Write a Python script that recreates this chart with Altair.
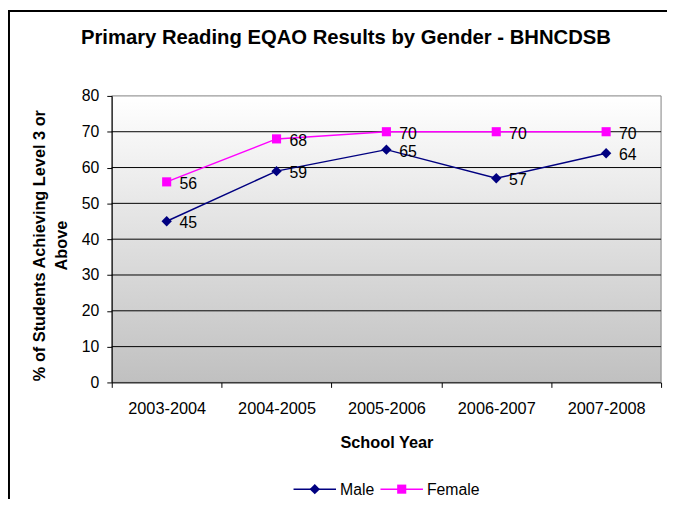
import altair as alt
import pandas as pd

years = ["2003-2004", "2004-2005", "2005-2006", "2006-2007", "2007-2008"]
male = [45, 59, 65, 57, 64]
female = [56, 68, 70, 70, 70]
series = ["Male", "Female"]
colors = ["#000080", "#FF00FF"]
shapes = ["diamond", "square"]
y_grid = [10, 20, 30, 40, 50, 60, 70]

rows = []
for y, m, f in zip(years, male, female):
    rows.append({"year": y, "series": "Male", "value": m})
    rows.append({"year": y, "series": "Female", "value": f})
df = pd.DataFrame(rows)
grid_df = pd.DataFrame({"value": y_grid})
leg_df = pd.DataFrame({"series": series})

W, H = 556, 290
FONT = "Liberation Sans"

x_enc = alt.X("year:N", sort=years,
              scale=alt.Scale(type="band", domain=years, paddingInner=0, paddingOuter=0),
              axis=alt.Axis(title="School Year", tickBand="extent", labelAngle=0,
                            labelFontSize=16.5, labelFont=FONT, labelColor="black",
                            labelPadding=13, tickSize=5, tickColor="black",
                            domainColor="black", grid=False, zindex=1,
                            titleFont=FONT, titleFontSize=16.5, titleFontWeight="bold",
                            titleColor="black", titleX=W / 2, titleY=61,
                            titleBaseline="middle", titleAlign="center"))
y_scale = alt.Scale(domain=[0, 80], nice=False, zero=True)
y_axis = alt.Axis(values=list(range(0, 81, 10)), grid=False,
                  title=["% of Students Achieving Level 3 or", "Above"],
                  labelFontSize=16, labelFont=FONT, labelColor="black",
                  labelPadding=8, tickSize=5, tickColor="black",
                  domainColor="black", zindex=1,
                  titleFont=FONT, titleFontSize=16.5, titleFontWeight="bold",
                  titleColor="black", titleX=-73, titleY=151,
                  titleAngle=270, titleAlign="center",
                  titleBaseline="middle", titleLineHeight=22)
y_enc = alt.Y("value:Q", scale=y_scale, axis=y_axis)
color_scale = alt.Scale(domain=series, range=colors)

one = alt.Data(values=[{"k": 1}])

bg = alt.Chart(one).mark_rect(
    color=alt.LinearGradient(gradient="linear",
                             stops=[alt.GradientStop(color="#ffffff", offset=0),
                                    alt.GradientStop(color="#c0c0c0", offset=1)],
                             x1=0, x2=0, y1=0, y2=1),
    stroke="#808080", strokeWidth=1
).encode(x=alt.value(0), x2=alt.value(W), y=alt.value(0), y2=alt.value(H))

border = alt.Chart(one).mark_rect(
    fill="white", fillOpacity=0, stroke="black", strokeWidth=2
).encode(x=alt.value(-104), x2=alt.value(W + 40), y=alt.value(-86), y2=alt.value(H + 160))

grid = alt.Chart(grid_df).mark_rule(color="#000000", strokeWidth=1).encode(y=y_enc)

lines = alt.Chart(df).mark_line(strokeWidth=1.5).encode(
    x=x_enc, y=y_enc,
    color=alt.Color("series:N", scale=color_scale, legend=None),
    detail="series:N",
)

male_pts = alt.Chart(df).transform_filter(alt.datum.series == "Male").mark_point(
    shape="diamond", filled=True, size=110, opacity=1
).encode(x=x_enc, y=y_enc, color=alt.Color("series:N", scale=color_scale, legend=None))

female_pts = alt.Chart(df).transform_filter(alt.datum.series == "Female").mark_point(
    shape="square", filled=True, size=85, opacity=1
).encode(x=x_enc, y=y_enc, color=alt.Color("series:N", scale=color_scale, legend=None))

labels = alt.Chart(df).mark_text(
    align="left", baseline="middle", dx=13, dy=2, fontSize=16, font=FONT, color="black"
).encode(x=x_enc, y=y_enc, text=alt.Text("value:Q"))

# legend (bottom, centred under the chart)
LEG_Y = 398
leg_slots = {"Male": 184, "Female": 272}   # left end of each legend line sample
leg_layers = []
for name, col, shp in zip(series, colors, shapes):
    x0 = leg_slots[name]
    base = alt.Chart(leg_df).transform_filter(alt.datum.series == name)
    leg_layers.append(base.mark_rule(color=col, strokeWidth=1.5).encode(
        x=alt.value(x0), x2=alt.value(x0 + 43), y=alt.value(LEG_Y)))
    leg_layers.append(base.mark_point(shape=shp, filled=True, color=col, opacity=1,
                                      size=110 if shp == "diamond" else 85).encode(
        x=alt.value(x0 + 21.5), y=alt.value(LEG_Y)))
    leg_layers.append(base.mark_text(align="left", baseline="middle", fontSize=16,
                                     font=FONT, color="black").encode(
        x=alt.value(x0 + 47), y=alt.value(LEG_Y + 1), text="series:N"))

chart = alt.layer(
    bg, border, grid, lines, male_pts, female_pts, labels, *leg_layers
).properties(
    width=W, height=H,
    title=alt.TitleParams("Primary Reading EQAO Results by Gender - BHNCDSB",
                          font=FONT, fontSize=20.5, fontWeight="bold", color="black",
                          anchor="middle", dx=-41, offset=-55, baseline="alphabetic"),
    autosize=alt.AutoSizeParams(type="none"),
    padding={"left": 105, "top": 86, "right": 6, "bottom": 115},
    background="white",
).configure_view(stroke=None)

chart.save("out.html", embed_options={"renderer": "svg", "actions": False})
